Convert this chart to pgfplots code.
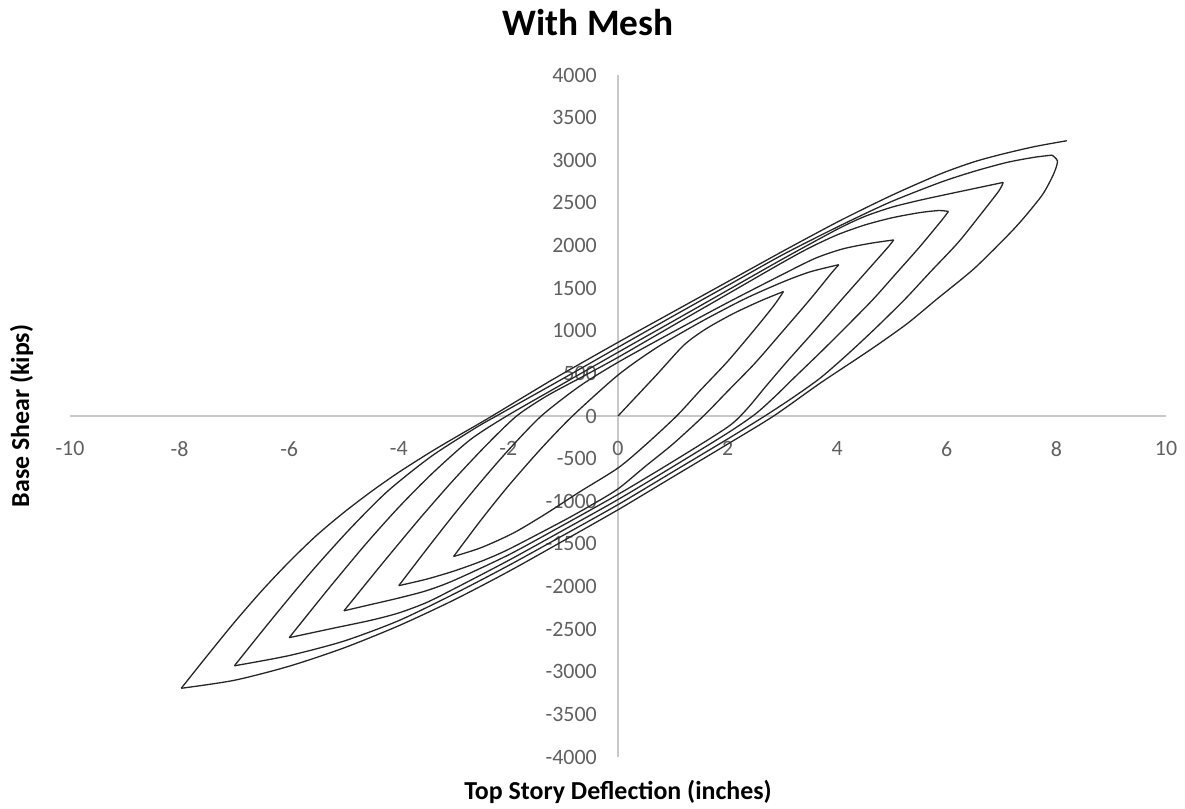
\documentclass[border=0pt]{standalone}
\usepackage{fontspec}
\setmainfont{Carlito}
\usepackage{pgfplots}
\pgfplotsset{compat=1.18}
\definecolor{axisgray}{RGB}{200,200,200}
\definecolor{tickgray}{RGB}{96,96,96}
\pgfplotsset{curve/.style={black!85, line width=1.3bp, smooth, tension=0.45, mark=none}}
\begin{document}
\begin{tikzpicture}
\useasboundingbox (-70bp,-52bp) rectangle (1115bp,757bp);
\begin{axis}[
  at={(0,0)}, anchor=south west,
  scale only axis, width=1096bp, height=682bp,
  xmin=-10, xmax=10, ymin=-4000, ymax=4000,
  axis lines=middle, clip=false,
  axis line style={draw=axisgray, line width=1.3bp, -},
  every inner x axis line/.append style={-},
  every inner y axis line/.append style={-},
  xtick={-10,-8,-6,-4,-2,0,2,4,6,8,10},
  xticklabels={-10,-8,-6,-4,-2,0,2,4,6,8,10},
  ytick={-4000,-3500,-3000,-2500,-2000,-1500,-1000,-500,0,500,1000,1500,2000,2500,3000,3500,4000},
  yticklabels={-4000,-3500,-3000,-2500,-2000,-1500,-1000,-500,0,500,1000,1500,2000,2500,3000,3500,4000},
  major tick length=0pt,
  hide obscured x ticks=false, hide obscured y ticks=false,
  tick label style={font=\fontsize{22}{26}\selectfont, text=tickgray},
  xticklabel style={anchor=north, inner sep=0pt, yshift=-25bp},
  yticklabel style={anchor=east, inner sep=0pt, xshift=-21bp},
  title={With Mesh},
  every axis title/.style={at={(axis description cs:0.5,1)}, anchor=base, xshift=-30bp, yshift=40bp, font=\fontsize{37.5}{44}\selectfont\bfseries},
  xlabel={Top Story Deflection (inches)},
  ylabel={Base Shear (kips)},
  every axis x label/.style={at={(axis description cs:0.5,0)}, anchor=base, yshift=-42bp, font=\fontsize{26}{30}\selectfont\bfseries},
  every axis y label/.style={at={(axis description cs:-0.0374,0.5)}, anchor=base, rotate=90, font=\fontsize{26}{30}\selectfont\bfseries},
]
% initial loading
\addplot[curve] coordinates {(0,0) (0.7,480) (1.2,830) (1.6,1020) (2.1,1200) (2.6,1350) (3.02,1460)};
% unload from 3
\addplot[curve] coordinates {(3.02,1460) (2.85,1300) (2.5,1020) (2.0,640) (1.5,300) (1.07,0) (0.5,-340) (0,-610) (-0.7,-890) (-1.3,-1140) (-1.9,-1370) (-2.5,-1545) (-3.0,-1648)};
% reload to 4
\addplot[curve] coordinates {(-3.0,-1648) (-2.5,-1220) (-2.0,-820) (-1.4,-380) (-0.83,0) (0,480) (0.7,800) (1.5,1100) (2.3,1370) (3.0,1570) (3.5,1690) (4.03,1775)};
% unload from 4
\addplot[curve] coordinates {(4.03,1775) (3.9,1680) (3.51,1372) (3.0,990) (2.5,620) (2.0,290) (1.56,0) (1.0,-330) (0.5,-590) (0,-855) (-0.5,-1050) (-1,-1230) (-2,-1565) (-2.5,-1705) (-3,-1820) (-3.5,-1915) (-4,-1990)};
% reload to 5
\addplot[curve] coordinates {(-4,-1990) (-3.5,-1570) (-3.0,-1160) (-2.5,-770) (-2.0,-400) (-1.4,0) (-0.7,350) (0,630) (1,985) (2,1330) (3,1660) (3.6,1850) (4.1,1960) (4.6,2025) (5.03,2065)};
% unload from 5
\addplot[curve] coordinates {(5.03,2065) (4.92,1975) (4.5,1670) (4.09,1372) (3.6,1010) (3.1,650) (2.7,350) (2.35,80) (2.0,-130) (1.0,-535) (0,-920) (-1,-1280) (-2,-1630) (-3,-1930) (-3.5,-2050) (-4,-2135) (-4.5,-2210) (-5,-2285)};
% reload to 6
\addplot[curve] coordinates {(-5,-2285) (-4.3,-1730) (-3.6,-1190) (-3.0,-750) (-2.4,-340) (-1.85,0) (-1.3,235) (-0.65,460) (0,688) (1,1060) (2,1430) (3,1800) (3.5,1975) (4.0,2125) (4.5,2240) (5.0,2325) (5.5,2385) (5.85,2410) (6.03,2400)};
% unload from 6
\addplot[curve] coordinates {(6.03,2400) (5.9,2290) (5.5,1980) (5.1,1690) (4.66,1372) (4.2,1070) (3.7,750) (3.2,440) (2.85,220) (2.5,20) (2.0,-200) (1.0,-595) (0,-980) (-1,-1340) (-2,-1695) (-3,-2030) (-3.5,-2190) (-4.0,-2310) (-4.5,-2395) (-5.2,-2490) (-6,-2600)};
% reload to 7
\addplot[curve] coordinates {(-6,-2600) (-5.3,-2040) (-4.6,-1500) (-4.0,-1070) (-3.4,-680) (-2.7,-280) (-2.03,0) (-1,380) (0,747) (1,1110) (2,1475) (3,1840) (4,2190) (4.5,2340) (5.0,2450) (5.5,2530) (6.0,2600) (6.5,2668) (7.03,2740)};
% unload from 7
\addplot[curve] coordinates {(7.03,2740) (6.95,2640) (6.6,2350) (6.2,2030) (5.7,1690) (5.24,1372) (4.7,1030) (4.2,730) (3.7,450) (3.2,220) (2.68,0) (2.0,-270) (1.0,-655) (0,-1040) (-1,-1400) (-2,-1755) (-3,-2090) (-4,-2400) (-5,-2640) (-6,-2810) (-7,-2930)};
% reload to 8
\addplot[curve] coordinates {(-7,-2930) (-6.3,-2370) (-5.6,-1830) (-4.9,-1330) (-4.2,-880) (-3.4,-470) (-2.6,-140) (-2.22,0) (-1,440) (0,806) (1,1170) (2,1530) (3,1890) (4.05,2232) (4.97,2510) (5.88,2740) (6.5,2870) (7.1,2975) (7.6,3035) (7.92,3060)};
% unload from 8
\addplot[curve] coordinates {(7.92,3060) (8.02,2990) (7.95,2840) (7.75,2600) (7.4,2320) (7.1,2110) (6.49,1724) (5.82,1372) (5.27,1080) (4.6,775) (3.7,390) (2.84,0) (2.0,-330) (1.0,-715) (0,-1100) (-1,-1465) (-2,-1825) (-3,-2160) (-4,-2460) (-5,-2720) (-6,-2935) (-7,-3100) (-7.97,-3194)};
% final reload
\addplot[curve] coordinates {(-7.97,-3194) (-7.5,-2815) (-7.0,-2420) (-6.5,-2050) (-6.0,-1710) (-5.5,-1400) (-5.0,-1130) (-4.5,-885) (-4.0,-660) (-3.4,-415) (-2.9,-225) (-2.35,-20) (-1.2,425) (0,864) (1,1220) (2,1575) (3,1930) (4.05,2291) (5.0,2590) (5.88,2839) (6.49,2980) (7.0,3070) (7.6,3160) (8.19,3229)};
\end{axis}
\end{tikzpicture}
\end{document}
